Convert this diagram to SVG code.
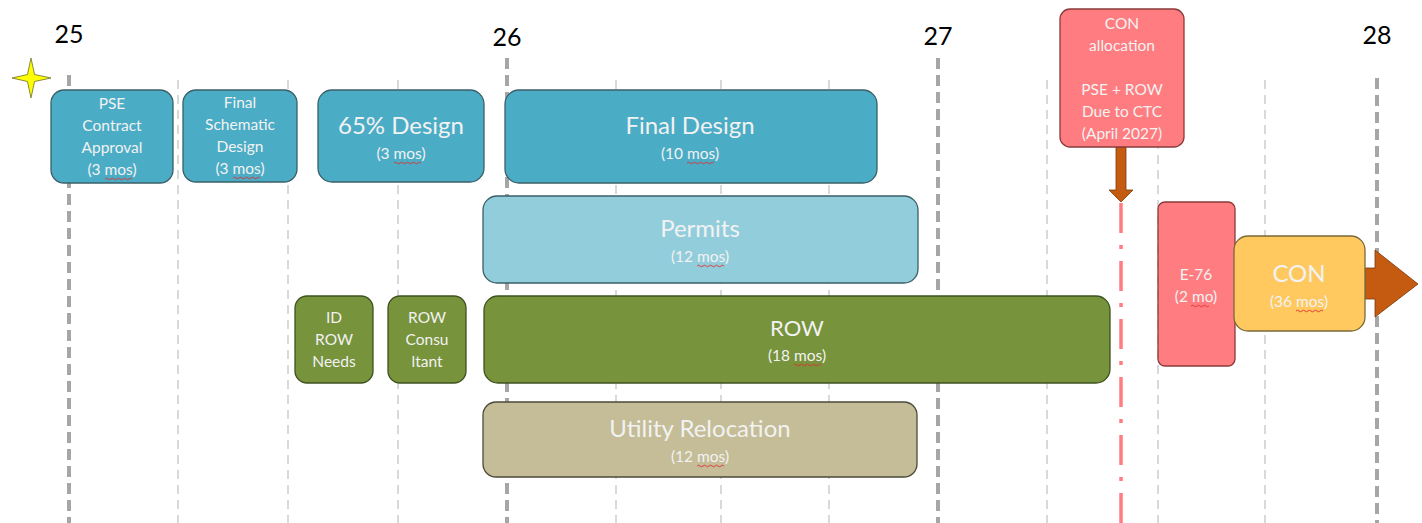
<svg xmlns="http://www.w3.org/2000/svg" width="1422" height="523" viewBox="0 0 1422 523">
<style>
.bg{fill:#ffffff}
.major{stroke:#A6A6A6;stroke-width:4;stroke-dasharray:11 6;fill:none}
.minor{stroke:#D9D9D9;stroke-width:2;stroke-dasharray:9 6;fill:none}
.yr{font-family:Lato,"Liberation Sans",sans-serif;font-size:25px;fill:#000;text-anchor:middle}
.box{stroke:#3B5F68;stroke-width:1.3}
.teal{fill:#4BACC6}
.lteal{fill:#92CDDC}
.green{fill:#77933C;stroke:#3F5220}
.khaki{fill:#C4BD97;stroke:#4A4A3A}
.pink{fill:#FF7C80;stroke:#8A3A3A}
.gold{fill:#FFC95F;stroke:#7A6A3A}
.t{font-family:Lato,"Liberation Sans",sans-serif;fill:#F2F2F2;text-anchor:middle}
.s{font-size:15.5px}
.l{font-size:24px}
.wv{fill:none;stroke:#E03030;stroke-width:0.9}
</style>
<defs>
<path id="wave" class="wv" d="M0,0 q1.5,-1.6 3,0 t3,0 t3,0 t3,0 t3,0 t3,0 t3,0 t3,0 t3,0"/>
<path id="wave2" class="wv" d="M0,0 q1.5,-1.6 3,0 t3,0 t3,0 t3,0 t3,0 t3,0"/>
</defs>
<rect class="bg" x="0" y="0" width="1422" height="523"/>
<g id="grid">
<line class="major" x1="69" y1="75" x2="69" y2="523"/>
<line class="major" x1="507" y1="58" x2="507" y2="523"/>
<line class="major" x1="938" y1="58" x2="938" y2="523"/>
<line class="major" x1="1377" y1="78" x2="1377" y2="523"/>
<line class="minor" x1="178" y1="80" x2="178" y2="523"/>
<line class="minor" x1="288" y1="80" x2="288" y2="523"/>
<line class="minor" x1="398" y1="80" x2="398" y2="523"/>
<line class="minor" x1="616" y1="80" x2="616" y2="523"/>
<line class="minor" x1="721" y1="80" x2="721" y2="523"/>
<line class="minor" x1="829" y1="80" x2="829" y2="523"/>
<line class="minor" x1="1047" y1="80" x2="1047" y2="523"/>
<line class="minor" x1="1158" y1="80" x2="1158" y2="523"/>
<line class="minor" x1="1265" y1="80" x2="1265" y2="523"/>
</g>
<g id="years">
<text class="yr" x="69" y="43">25</text>
<text class="yr" x="507" y="46">26</text>
<text class="yr" x="938" y="45">27</text>
<text class="yr" x="1377" y="44">28</text>
</g>
<g id="star">
<path d="M31,58 L34.5,74.5 L51,78 L34.5,81.5 L31,98 L27.5,81.5 L12,78 L27.5,74.5 Z" fill="#FFFF00" stroke="#8A8A3A" stroke-width="1"/>
</g>
<g id="connectors">
<line x1="1121" y1="203" x2="1121" y2="523" stroke="#FF7C80" stroke-width="3.5" stroke-dasharray="30 12 4 12"/>
<path d="M1116,147 L1126,147 L1126,190 L1133,190 L1121,202 L1109,190 L1116,190 Z" fill="#C55A11" stroke="#7A3A0A" stroke-width="0.8"/>
<path d="M1365,268 L1375,268 L1375,250 L1418,284 L1375,317 L1375,299 L1365,299 Z" fill="#C55A11" stroke="#7A3A0A" stroke-width="0.8"/>
</g>
<g id="pse">
<rect class="box teal" x="51" y="90" width="122" height="93" rx="13"/>
<text class="t s" x="112" y="109">PSE</text>
<text class="t s" x="112" y="131">Contract</text>
<text class="t s" x="112" y="153">Approval</text>
<text class="t s" x="112" y="175">(3 mos)</text>
<use href="#wave" x="105" y="179"/>
</g>
<g id="schematic">
<rect class="box teal" x="183" y="90" width="114" height="92" rx="13"/>
<text class="t s" x="240" y="108">Final</text>
<text class="t s" x="240" y="130">Schematic</text>
<text class="t s" x="240" y="152">Design</text>
<text class="t s" x="240" y="174">(3 mos)</text>
<use href="#wave" x="233" y="178"/>
</g>
<g id="design65">
<rect class="box teal" x="318" y="90" width="166" height="92" rx="14"/>
<text class="t l" x="401" y="134">65% Design</text>
<text class="t s" x="401" y="159">(3 mos)</text>
<use href="#wave" x="394" y="163"/>
</g>
<g id="finaldesign">
<rect class="box teal" x="505" y="90" width="372" height="93" rx="14"/>
<text class="t l" x="690" y="134">Final Design</text>
<text class="t s" x="690" y="159">(10 mos)</text>
<use href="#wave" x="687" y="163"/>
</g>
<g id="permits">
<rect class="box lteal" x="483" y="196" width="435" height="87" rx="14"/>
<text class="t l" x="700" y="237">Permits</text>
<text class="t s" x="700" y="262">(12 mos)</text>
<use href="#wave" x="697" y="266"/>
</g>
<g id="idrow">
<rect class="box green" x="295" y="296" width="78" height="87" rx="12"/>
<text class="t s" x="334" y="323">ID</text>
<text class="t s" x="334" y="345">ROW</text>
<text class="t s" x="334" y="367">Needs</text>
</g>
<g id="rowconsultant">
<rect class="box green" x="388" y="296" width="78" height="87" rx="12"/>
<text class="t s" x="427" y="323">ROW</text>
<text class="t s" x="427" y="345">Consu</text>
<text class="t s" x="427" y="367">ltant</text>
</g>
<g id="row">
<rect class="box green" x="484" y="296" width="626" height="87" rx="14"/>
<text class="t" x="797" y="336" font-size="22">ROW</text>
<text class="t s" x="797" y="361">(18 mos)</text>
<use href="#wave" x="794" y="365"/>
</g>
<g id="utility">
<rect class="box khaki" x="483" y="402" width="434" height="75" rx="13"/>
<text class="t l" x="700" y="437">Utility Relocation</text>
<text class="t s" x="700" y="462">(12 mos)</text>
<use href="#wave" x="697" y="466"/>
</g>
<g id="conalloc">
<rect class="box pink" x="1060" y="9" width="124" height="138" rx="10"/>
<text class="t s" x="1122" y="29">CON</text>
<text class="t s" x="1122" y="51">allocation</text>
<text class="t s" x="1122" y="95">PSE + ROW</text>
<text class="t s" x="1122" y="117">Due to CTC</text>
<text class="t s" x="1122" y="139">(April 2027)</text>
</g>
<g id="e76">
<rect class="box pink" x="1158" y="202" width="77" height="164" rx="7"/>
<text class="t s" x="1196" y="280">E-76</text>
<text class="t s" x="1196" y="302">(2 mo)</text>
<use href="#wave2" x="1191" y="306"/>
</g>
<g id="con">
<rect class="box gold" x="1234" y="236" width="131" height="95" rx="14"/>
<text class="t l" x="1299" y="282">CON</text>
<text class="t s" x="1299" y="307">(36 mos)</text>
<use href="#wave" x="1296" y="311"/>
</g>
</svg>
